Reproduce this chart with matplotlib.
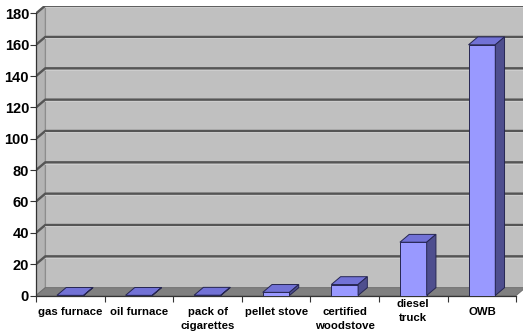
import matplotlib
matplotlib.use("Agg")
import matplotlib.pyplot as plt
from matplotlib.patches import Polygon
from matplotlib.transforms import ScaledTranslation

# Emissions per source
categories = ["gas furnace", "oil furnace", "pack of\ncigarettes", "pellet stove",
              "certified\nwoodstove", "diesel\ntruck", "OWB"]
values = [0.1, 0.1, 0.2, 2, 7, 34, 160]
y_ticks = [0, 20, 40, 60, 80, 100, 120, 140, 160, 180]

plt.rcParams["font.family"] = ["Liberation Sans", "DejaVu Sans"]
plt.rcParams["font.weight"] = "bold"

W, H = 523, 335
fig = plt.figure(figsize=(W / 100, H / 100), dpi=100)

# depth offset of the 3D box (data units)
ddx, ddy = 0.135, 5.0
n = len(categories)
ymax = y_ticks[-1]
px_x = 68.6          # pixels per category
px_y = 1.567         # pixels per value unit
left_px, zero_px = 36, 295.5
ax_w = (n + ddx) * px_x
ax_h = (ymax + ddy) * px_y
ax = fig.add_axes([left_px / W, (H - zero_px) / H, ax_w / W, ax_h / H])
ax.set_xlim(-0.5, n - 0.5 + ddx)
ax.set_ylim(0, ymax + ddy)
ax.set_facecolor("none")

x0, x1 = -0.5, n - 0.5
# back wall
ax.add_patch(Polygon([(x0 + ddx, ddy), (x1 + ddx, ddy), (x1 + ddx, ymax + ddy),
                      (x0 + ddx, ymax + ddy)], closed=True,
                     facecolor="#c0c0c0", edgecolor="#8c8c8c", lw=0.8, zorder=0.5))
# side wall
ax.add_patch(Polygon([(x0, 0), (x0 + ddx, ddy), (x0 + ddx, ymax + ddy), (x0, ymax)],
                     closed=True, facecolor="#b4b4b4", edgecolor="#8c8c8c", lw=0.8,
                     zorder=0.5))
# gridlines on walls
for v in y_ticks[1:]:
    ax.plot([x0, x0 + ddx, x1 + ddx], [v, v + ddy, v + ddy], color="#555555",
            lw=1.7, zorder=0.8, solid_capstyle="butt")
    ax.plot([x0 + ddx, x1 + ddx], [v + ddy - 0.9, v + ddy - 0.9], color="#d0d0d0",
            lw=0.6, zorder=0.8)
# floor
ax.add_patch(Polygon([(x0, 0), (x1, 0), (x1 + ddx, ddy), (x0 + ddx, ddy)], closed=True,
                     facecolor="#808080", edgecolor="#6a6a6a", lw=0.6, zorder=0.9))

# 3D columns
bw = 0.39
front_c, top_c, side_c, edge_c = "#9999ff", "#7272d6", "#4e4e8e", "#262652"
xs = list(range(n))
ax.bar(xs, values, width=bw, color=front_c, edgecolor=edge_c, linewidth=0.7, zorder=3)
for x, v in zip(xs, values):
    l, r = x - bw / 2, x + bw / 2
    ax.add_patch(Polygon([(l, v), (r, v), (r + ddx, v + ddy), (l + ddx, v + ddy)],
                         closed=True, facecolor=top_c, edgecolor=edge_c, lw=0.7,
                         zorder=3))
    ax.add_patch(Polygon([(r, 0), (r + ddx, ddy), (r + ddx, v + ddy), (r, v)],
                         closed=True, facecolor=side_c, edgecolor=edge_c, lw=0.7,
                         zorder=3))

# axes lines and ticks
for s in ["top", "right"]:
    ax.spines[s].set_visible(False)
ax.spines["left"].set_bounds(0, ymax)
ax.spines["bottom"].set_bounds(x0, x1)
for s in ["left", "bottom"]:
    ax.spines[s].set_color("#333333")
    ax.spines[s].set_linewidth(0.9)
    ax.spines[s].set_zorder(2)

ax.set_yticks(y_ticks)
ax.set_yticklabels([str(t) for t in y_ticks], fontsize=10.5, fontweight="bold")
ax.tick_params(axis="y", direction="out", length=4, width=0.8, color="#333333", pad=1)

ax.set_xticks(xs)
ax.set_xticklabels(categories, fontsize=8.2, fontweight="bold", linespacing=1.5)
ax.set_xticks([i - 0.5 for i in range(n + 1)], minor=True)
ax.tick_params(axis="x", which="major", length=0, pad=8)
ax.tick_params(axis="x", which="minor", direction="out", length=4, width=0.8,
               color="#333333")
for lab in ax.get_xticklabels():
    if lab.get_text().startswith("diesel"):
        lab.set_transform(lab.get_transform() + ScaledTranslation(0, 5.5 / 72, fig.dpi_scale_trans))

fig.savefig("out.png", dpi=100)
